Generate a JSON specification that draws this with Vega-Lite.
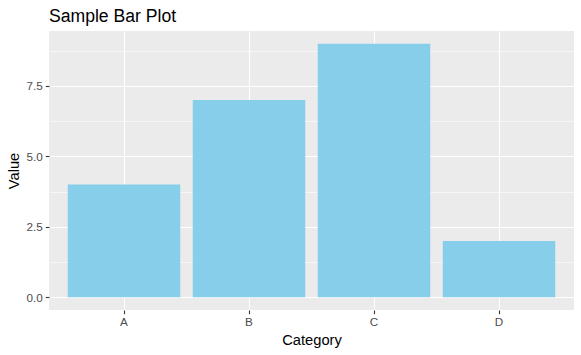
{
  "$schema": "https://vega.github.io/schema/vega-lite/v6.json",
  "autosize": {"type": "none"},
  "padding": {"left": 49, "top": 31, "right": 7, "bottom": 45},
  "width": 525,
  "height": 279,
  "background": "white",
  "title": {
    "text": "Sample Bar Plot",
    "anchor": "start",
    "frame": "group",
    "font": "Liberation Sans",
    "fontSize": 17.6,
    "fontWeight": "normal",
    "color": "black",
    "offset": 5
  },
  "config": {
    "view": {"fill": "#EBEBEB", "stroke": null},
    "axis": {
      "labelFont": "Liberation Sans",
      "titleFont": "Liberation Sans",
      "labelFontSize": 11.7,
      "labelColor": "#4D4D4D",
      "titleFontSize": 14.7,
      "titleFontWeight": "normal",
      "titleColor": "black",
      "gridColor": "white",
      "tickColor": "#333333",
      "tickSize": 3.7,
      "tickWidth": 1.1,
      "domain": false
    }
  },
  "data": {
    "values": [
      {"Category": "A", "Value": 4},
      {"Category": "B", "Value": 7},
      {"Category": "C", "Value": 9},
      {"Category": "D", "Value": 2}
    ]
  },
  "mark": {"type": "bar", "color": "#87CEEB"},
  "encoding": {
    "x": {
      "field": "Category",
      "type": "nominal",
      "scale": {"paddingInner": 0.1, "paddingOuter": 0.15},
      "axis": {
        "labelAngle": 0,
        "grid": true,
        "gridWidth": 1.1,
        "bandPosition": 0.5,
        "labelPadding": 3,
        "titlePadding": 4
      }
    },
    "y": {
      "field": "Value",
      "type": "quantitative",
      "scale": {"domain": [-0.45, 9.45], "nice": false, "zero": false},
      "axis": {
        "values": [0, 1.25, 2.5, 3.75, 5, 6.25, 7.5, 8.75],
        "labelExpr": "datum.value % 2.5 === 0 ? format(datum.value, '.1f') : ''",
        "gridWidth": {"condition": {"test": "datum.value % 2.5 === 0", "value": 1.1}, "value": 0.55},
        "tickOpacity": {"condition": {"test": "datum.value % 2.5 === 0", "value": 1}, "value": 0},
        "labelPadding": 3,
        "titlePadding": 5
      }
    }
  }
}
